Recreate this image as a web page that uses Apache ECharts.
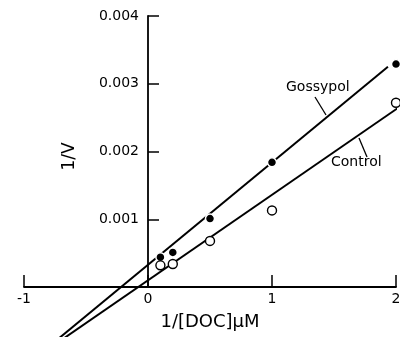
<!DOCTYPE html>
<html>
<head>
<meta charset="utf-8">
<script src="https://cdn.jsdelivr.net/npm/echarts@6/dist/echarts.min.js"></script>
<style>html,body{margin:0;padding:0;background:#fff}#c{width:400px;height:337px}</style>
</head>
<body>
<div id="c"></div>
<script>
// Data
var xTicks = [-1, 0, 1, 2];
var yTicks = [0.001, 0.002, 0.003, 0.004];
var gossypolPoints = [[0.1, 0.00044], [0.2, 0.00051], [0.5, 0.00101], [1, 0.00184], [2, 0.00329]];
var controlPoints = [[0.1, 0.00032], [0.2, 0.00034], [0.5, 0.00068], [1, 0.00113], [2, 0.00272]];
var gossypolFit = [[-0.72, -0.00076], [1.935, 0.00325]];
var controlFit = [[-0.72, -0.00081], [2.03, 0.00266]];
var seriesNames = ['Gossypol', 'Control'];
var xName = '1/[DOC]\u03bcM';
var yName = '1/V';

var FONT = 'DejaVu Sans';
var chart = echarts.init(document.getElementById('c'), null, {renderer: 'canvas'});
chart.setOption({
  backgroundColor: '#fff',
  animation: false,
  grid: {left: 24, right: 4, top: 16, bottom: 50, containLabel: false, outerBoundsMode: 'none'},
  xAxis: {
    type: 'value', min: xTicks[0], max: xTicks[xTicks.length - 1], interval: 1,
    axisLine: {onZero: false, lineStyle: {color: '#000', width: 1.8}},
    axisTick: {inside: true, length: 12, lineStyle: {color: '#000', width: 1.5}},
    axisLabel: {color: '#000', fontFamily: FONT, fontSize: 14, margin: 5},
    splitLine: {show: false},
    name: xName, nameLocation: 'middle', nameGap: 26,
    nameTextStyle: {color: '#000', fontFamily: FONT, fontSize: 18}
  },
  yAxis: {
    type: 'value', min: 0, max: yTicks[yTicks.length - 1], interval: 0.001,
    position: 'left', offset: -124,
    axisLine: {onZero: false, lineStyle: {color: '#000', width: 1.8}},
    axisTick: {inside: true, length: 11, lineStyle: {color: '#000', width: 1.5}},
    axisLabel: {color: '#000', fontFamily: FONT, fontSize: 14, margin: 9, showMinLabel: false,
      formatter: function (v) { return v === 0 ? '' : v.toFixed(3); }},
    splitLine: {show: false},
    name: yName, nameLocation: 'middle', nameGap: 70, nameRotate: 90,
    nameTextStyle: {color: '#000', fontFamily: FONT, fontSize: 17, padding: [0, 0, 0, -10]}
  },
  series: [
    {type: 'line', data: gossypolFit, clip: false, symbol: 'none', silent: true,
      lineStyle: {color: '#000', width: 2}, z: 2},
    {type: 'line', data: controlFit, clip: false, symbol: 'none', silent: true,
      lineStyle: {color: '#000', width: 2}, z: 2},
    {type: 'scatter', name: seriesNames[0], data: gossypolPoints, symbol: 'circle', symbolSize: 9,
      itemStyle: {color: '#000', borderColor: '#fff', borderWidth: 1.5, opacity: 1}, z: 3},
    {type: 'scatter', name: seriesNames[1], data: controlPoints, symbol: 'circle', symbolSize: 9,
      itemStyle: {color: '#fff', borderColor: '#000', borderWidth: 1.4, opacity: 1}, z: 3}
  ],
  graphic: [
    {type: 'text', left: 286, top: 80, style: {text: seriesNames[0], fill: '#000', font: '14px "DejaVu Sans"'}},
    {type: 'line', shape: {x1: 315, y1: 97, x2: 326, y2: 115}, style: {stroke: '#000', lineWidth: 1.3}},
    {type: 'text', left: 331, top: 155, style: {text: seriesNames[1], fill: '#000', font: '14px "DejaVu Sans"'}},
    {type: 'line', shape: {x1: 359, y1: 138, x2: 367, y2: 157}, style: {stroke: '#000', lineWidth: 1.3}}
  ]
});
</script>
</body>
</html>
